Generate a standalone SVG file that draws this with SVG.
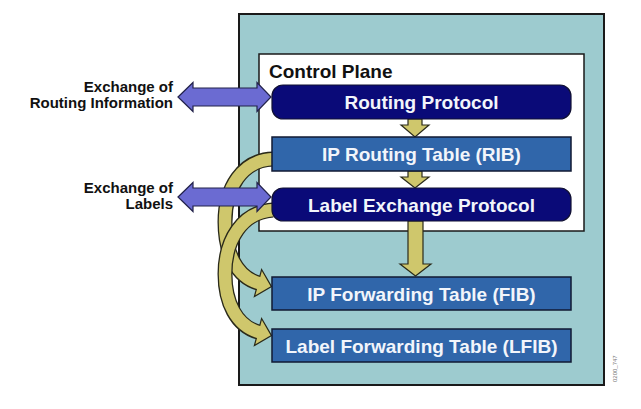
<svg xmlns="http://www.w3.org/2000/svg" width="641" height="409" viewBox="0 0 641 409">
<style>
.lbl{font-family:"Liberation Sans",Arial,sans-serif;font-weight:bold;}
.side{font-size:15px;fill:#111;text-anchor:end;}
.box{font-size:19px;fill:#f2f5fb;text-anchor:middle;}
.navy{fill:#0a0a78;stroke:#111133;stroke-width:1.2;}
.blue{fill:#3066aa;stroke:#111a33;stroke-width:1.5;}
.yarrow{fill:#cfc76c;stroke:#2a2a1a;stroke-width:1.2;stroke-linejoin:miter;}
.parrow{fill:#6b6bd2;stroke:#22224a;stroke-width:1.2;}
.bandout{fill:none;stroke:#2a2a1a;stroke-width:15;}
.bandin{fill:none;stroke:#cfc76c;stroke-width:12.4;}
</style>
<rect width="641" height="409" fill="#ffffff"/>
<g id="router">
<rect x="239" y="14" width="365" height="371" fill="#9dcbcf" stroke="#1a1a1a" stroke-width="2"/>
</g>
<g id="control-plane">
<rect x="259" y="54" width="325" height="177" fill="#ffffff" stroke="#1a1a1a" stroke-width="1.5"/>
<text class="lbl" x="269" y="78" font-size="19" fill="#111">Control Plane</text>
</g>
<g id="connectors">
<g id="curve-rib-fib">
<path class="bandout" d="M 273 159 C 242 160, 225 188, 225 222 C 225 252, 236 277, 259 283.3"/>
<polygon class="yarrow" points="261.6,269.5 271.5,286.6 254.4,296.5"/>
<path class="bandin" d="M 274 159 C 242 160, 225 188, 225 222 C 225 252, 236 277, 260 283.5"/>
</g>
<g id="curve-lep-lfib">
<path class="bandout" d="M 273 210 C 242 212, 225 240, 225 274 C 225 302, 236 326, 259 332.3"/>
<polygon class="yarrow" points="261.6,318.5 271.5,335.6 254.4,345.5"/>
<path class="bandin" d="M 274 210 C 242 212, 225 240, 225 274 C 225 302, 236 326, 260 332.5"/>
</g>
<polygon class="parrow" points="178,97 193,82.5 193,88 257,88 257,82.5 271,97 257,111.5 257,106 193,106 193,111.5"/>
<polygon class="parrow" points="178,197 193,182.5 193,188 257,188 257,182.5 271,197 257,211.5 257,206 193,206 193,211.5"/>
<polygon class="yarrow" points="408,119 422,119 422,125 429,125 415,137 401,125 408,125"/>
<polygon class="yarrow" points="408,171 422,171 422,177 429,177 415,188 401,177 408,177"/>
<polygon class="yarrow" points="408,221 423,221 423,264 431,264 415.5,276 400,264 408,264"/>
</g>
<g id="ext-routing">
<text class="lbl side" x="173" y="92">Exchange of</text>
<text class="lbl side" x="173" y="108">Routing Information</text>
</g>
<g id="ext-labels">
<text class="lbl side" x="173" y="193">Exchange of</text>
<text class="lbl side" x="173" y="209">Labels</text>
</g>
<g id="routing-protocol">
<rect class="navy" x="272" y="85" width="299" height="34" rx="11"/>
<text class="lbl box" x="421.5" y="109">Routing Protocol</text>
</g>
<g id="rib">
<rect class="blue" x="272" y="137" width="299" height="34"/>
<text class="lbl box" x="421.5" y="161">IP Routing Table (RIB)</text>
</g>
<g id="lep">
<rect class="navy" x="272" y="188" width="299" height="33" rx="11"/>
<text class="lbl box" x="421.5" y="211.5">Label Exchange Protocol</text>
</g>
<g id="fib">
<rect class="blue" x="272" y="277" width="299" height="33"/>
<text class="lbl box" x="421.5" y="300.5">IP Forwarding Table (FIB)</text>
</g>
<g id="lfib">
<rect class="blue" x="272" y="329" width="299" height="33"/>
<text class="lbl box" x="421.5" y="352.5">Label Forwarding Table (LFIB)</text>
</g>
<text x="617" y="382" transform="rotate(-90 617 382)" font-family="'Liberation Sans',Arial,sans-serif" font-size="6" fill="#777">0200_747</text>
</svg>
